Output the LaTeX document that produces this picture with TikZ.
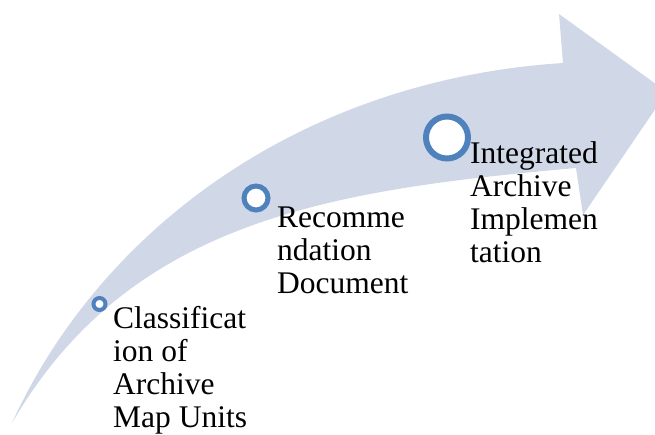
\documentclass[tikz,border=0pt]{standalone}
\usepackage{fontspec}
\setmainfont{Liberation Serif}
\usetikzlibrary{positioning}
\definecolor{bandblue}{RGB}{208,216,232}
\definecolor{ringblue}{RGB}{79,129,189}
\tikzset{
band/.style={fill=bandblue, draw=none}, % the curved arrow
ring/.style={circle, draw=ringblue, fill=white, inner sep=0pt}, % milestone markers
steptext/.style={anchor=base west, align=left, inner sep=0pt,
  font=\fontsize{31.5}{33}\selectfont}, % milestone texts, placed by their last line
}
\begin{document}
\begin{tikzpicture}[x=1pt, y=-1pt]
\useasboundingbox (0,0) rectangle (655,434);
\clip (0,0) rectangle (655,434);

% rising arrow
\fill[band] (12,423) .. controls (100,230) and (300,80) .. (563,63)
  -- (559,14) -- (667,92) -- (583,215) -- (576,168)
  .. controls (330,190) and (130,220) .. (12,423) -- cycle;

% markers, growing along the arrow
\node[ring, line width=4pt, minimum size=12pt] (c1) at (99.5,304) {};
\node[ring, line width=5pt, minimum size=24pt] (c2) at (256,198) {};
\node[ring, line width=6pt, minimum size=42pt] (c3) at (447,137.5) {};

\node[steptext] (l1) at (113,427) {Classificat\\ion of\\Archive\\Map Units};
\node[steptext] (l2) at (277,293) {Recomme\\ndation\\Document};
\node[steptext] (l3) at (470,262) {Integrated\\Archive\\Implemen\\tation};

\end{tikzpicture}
\end{document}
